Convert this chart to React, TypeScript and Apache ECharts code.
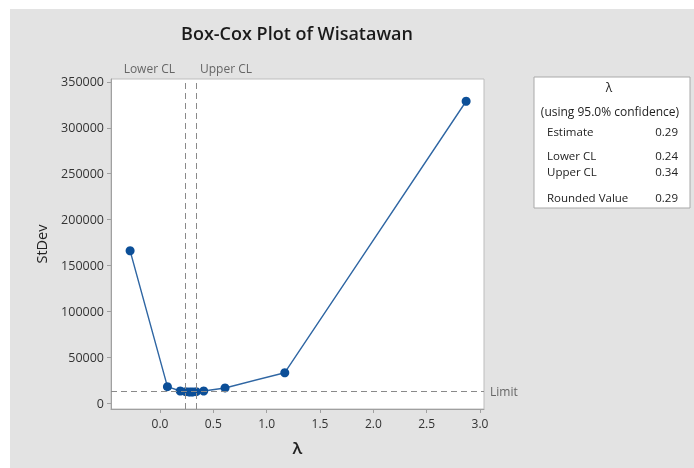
import React, { useEffect, useRef } from "react";
import * as echarts from "echarts";

const lambdas = [-0.28, 0.07, 0.19, 0.24, 0.27, 0.29, 0.31, 0.34, 0.41, 0.61, 1.17, 2.87];
const stdevs = [166000, 17800, 13100, 12300, 12100, 12000, 12100, 12300, 13100, 16400, 33000, 329000];
const lowerCL = 0.24;
const upperCL = 0.34;
const limitValue = 12300;
const xTicks = [0, 0.5, 1, 1.5, 2, 2.5, 3];
const yTicks = [0, 50000, 100000, 150000, 200000, 250000, 300000, 350000];
const legendLabels = ["Estimate", "Lower CL", "Upper CL", "Rounded Value"];
const legendValues = ["0.29", "0.24", "0.34", "0.29"];

const FONT = "'Open Sans', 'Noto Sans', sans-serif";

export default function App() {
  const ref = useRef<HTMLDivElement>(null);
  useEffect(() => {
    if (!ref.current) return;
    const chart = echarts.init(ref.current, null, { renderer: "svg" });
    const legendRowsY = [131, 155, 171, 197];
    chart.setOption({
      animation: false,
      backgroundColor: "transparent",
      textStyle: { fontFamily: FONT },
      grid: {
        left: 111,
        right: 210,
        top: 79,
        bottom: 59,
        show: true,
        backgroundColor: "#ffffff",
        borderColor: "#bdbdbd",
        borderWidth: 1,
      },
      xAxis: {
        type: "value",
        min: -0.459,
        max: 3.0375,
        name: "λ",
        nameLocation: "middle",
        nameGap: 30,
        nameTextStyle: { fontFamily: FONT, fontSize: 17, fontWeight: 600, color: "#222" },
        axisLine: { show: true, onZero: false, lineStyle: { color: "#a0a0a0" } },
        axisTick: { show: true, length: 4, customValues: xTicks, lineStyle: { color: "#a0a0a0" } },
        axisLabel: {
          customValues: xTicks,
          formatter: (v: number) => v.toFixed(1),
          fontSize: 12,
          color: "#333",
          margin: 8,
          fontFamily: FONT,
        },
        splitLine: { show: false },
      },
      yAxis: {
        type: "value",
        min: -6540,
        max: 353270,
        name: "StDev",
        nameLocation: "middle",
        nameGap: 62,
        nameTextStyle: { fontFamily: FONT, fontSize: 14.5, color: "#222" },
        axisLine: { show: true, onZero: false, lineStyle: { color: "#a0a0a0" } },
        axisTick: { show: true, length: 4, customValues: yTicks, lineStyle: { color: "#a0a0a0" } },
        axisLabel: {
          customValues: yTicks,
          formatter: (v: number) => String(v),
          fontSize: 12.5,
          color: "#333",
          margin: 7,
          fontFamily: FONT,
        },
        splitLine: { show: false },
      },
      series: [
        {
          type: "line",
          data: lambdas.map((l, i) => [l, stdevs[i]]),
          symbol: "circle",
          symbolSize: 9,
          lineStyle: { color: "#2f66a3", width: 1.4 },
          itemStyle: { color: "#0c4f98" },
          z: 3,
          markLine: {
            silent: true,
            symbol: "none",
            lineStyle: { color: "#8a8a8a", type: [6, 4], width: 1 },
            data: [
              { xAxis: lowerCL, label: { show: false } },
              { xAxis: upperCL, label: { show: false } },
              {
                yAxis: limitValue,
                label: {
                  show: true,
                  position: "end",
                  formatter: "Limit",
                  color: "#666",
                  fontSize: 12,
                  fontFamily: FONT,
                  distance: 6,
                },
              },
            ],
          },
        },
      ],
      graphic: [
        { type: "rect", z: -10, shape: { x: 10, y: 9, width: 700, height: 470 }, style: { fill: "#e3e3e3" } },
        { type: "text", x: 297, y: 33, style: { text: "Box-Cox Plot of Wisatawan", fill: "#1a1a1a", font: `600 18px ${FONT}`, textAlign: "center", textVerticalAlign: "middle" } },
        { type: "text", x: 175, y: 68, style: { text: "Lower CL", fill: "#666", font: `12px ${FONT}`, textAlign: "right", textVerticalAlign: "middle" } },
        { type: "text", x: 200, y: 68, style: { text: "Upper CL", fill: "#666", font: `12px ${FONT}`, textAlign: "left", textVerticalAlign: "middle" } },
        { type: "rect", z: 1, shape: { x: 534, y: 77, width: 156, height: 131 }, style: { fill: "#ffffff", stroke: "#a9a9a9", lineWidth: 1 } },
        { type: "text", z: 2, x: 609, y: 87, style: { text: "λ", fill: "#222", font: `12px ${FONT}`, textAlign: "center", textVerticalAlign: "middle" } },
        { type: "text", z: 2, x: 610, y: 111, style: { text: "(using 95.0% confidence)", fill: "#222", font: `12px ${FONT}`, textAlign: "center", textVerticalAlign: "middle" } },
        ...legendLabels.map((t, i) => ({
          type: "text", z: 2, x: 547, y: legendRowsY[i],
          style: { text: t, fill: "#222", font: `11.5px ${FONT}`, textAlign: "left", textVerticalAlign: "middle" },
        })),
        ...legendValues.map((t, i) => ({
          type: "text", z: 2, x: 678, y: legendRowsY[i],
          style: { text: t, fill: "#222", font: `11.5px ${FONT}`, textAlign: "right", textVerticalAlign: "middle" },
        })),
      ],
    });
    return () => chart.dispose();
  }, []);
  return (
    <div
      ref={ref}
      style={{ position: "fixed", left: 0, top: 0, width: 694, height: 468 }}
    />
  );
}
